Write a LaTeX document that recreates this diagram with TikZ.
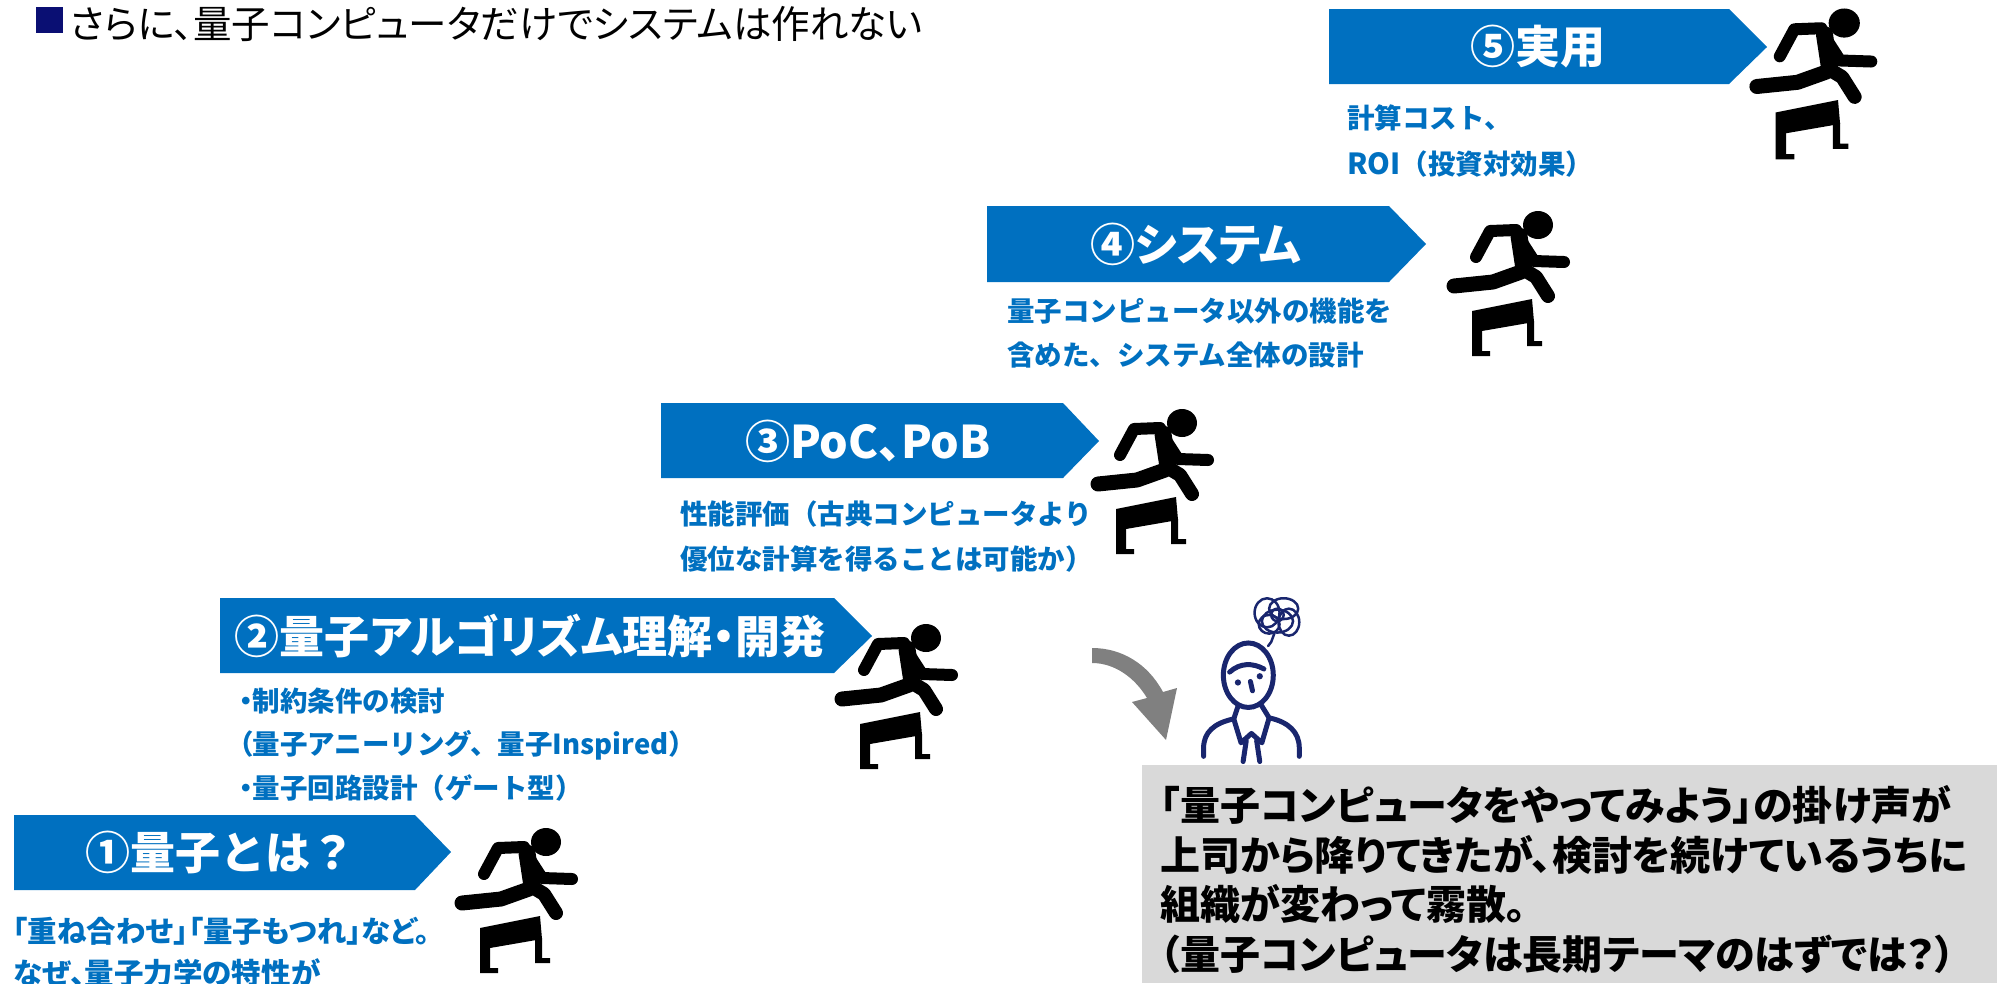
\documentclass[tikz,border=0pt]{standalone}
\usepackage{fontspec}
\setmainfont{Noto Sans CJK JP}
\newfontfamily\pfont{Noto Sans CJK JP}[RawFeature=+palt]
\definecolor{QC-BLUE}{RGB}{0, 112, 192}
\definecolor{QC-MARK}{RGB}{10, 15, 115}
\definecolor{QC-NAVY}{RGB}{25, 38, 110}
\definecolor{QC-ARROW}{RGB}{128, 128, 128}
\definecolor{QC-BOX}{RGB}{217, 217, 217}

% hurdle runner, drawn in a 140 x 160 box
\tikzset{
  runner/.pic={
    \begin{scope}[line cap=round, line join=round]
      \fill (106,26) ellipse [x radius=15, y radius=14];
      \draw[line width=17pt] (87,37) -- (92,70);
      \draw[line width=12pt] (84,31) -- (58,32) -- (44,58);
      \draw[line width=12pt] (91,45) -- (102,62) -- (132,63);
      \draw[line width=15pt] (89,73) -- (61,83) -- (22,87);
      \draw[line width=14pt] (94,72) -- (104,78) -- (116,97);
    \end{scope}
    % hurdle
    \fill (40,112) -- (100,100) -- (102,123) -- (50,132) -- (50,152)
      -- (58,152) -- (58,157) -- (40,157) -- cycle;
    \fill (95,122) -- (102,122) -- (102,142) -- (110,142) -- (110,147)
      -- (95,147) -- cycle;
  }
}

\begin{document}
\begin{tikzpicture}[x=1pt, y=-1pt,
    banner/.style={fill=QC-BLUE},
    bannertext/.style={text=white, inner sep=0pt,
      font=\pfont\bfseries\fontsize{45}{54}\selectfont},
    subtext/.style={text=QC-BLUE, inner sep=0pt, anchor=base west, align=left,
      font=\bfseries\fontsize{27.5}{44}\selectfont},
    memo/.style={text=black, inner sep=0pt, anchor=base west, align=left,
      font=\pfont\bfseries\fontsize{40}{49.5}\selectfont}]
  \useasboundingbox (0,0) rectangle (1997,983);
  \clip (0,0) rectangle (1997,983);

  % heading
  \fill[QC-MARK] (36,7) rectangle (63,33);
  \node[anchor=base west, inner sep=0pt, font=\pfont\fontsize{38.5}{42}\selectfont]
    (title) at (70,38) {さらに、量子コンピュータだけでシステムは作れない};

  % step 1
  \fill[banner] (14,815) -- (415,815) -- (451,852) -- (415,890) -- (14,890) -- cycle;
  \node[bannertext, font=\bfseries\fontsize{45}{54}\selectfont] (b1) at (220,852)
    {①量子とは？};
  \node[subtext, font=\pfont\bfseries\fontsize{29.5}{42}\selectfont] (s1) at (13,984)
    {「重ね合わせ」「量子もつれ」など。\\なぜ、量子力学の特性が};
  \pic at (440,816) {runner};

  % step 2
  \fill[banner] (220,598) -- (834,598) -- (872,636) -- (834,673) -- (220,673) -- cycle;
  \node[bannertext] (b2) at (530,636) {②量子アルゴリズム理解・開発};
  \node[subtext, font=\bfseries\fontsize{27.5}{43.5}\selectfont] (s2) at (239,798)
    {{\pfont ・}制約条件の検討\\{\pfont （}量子アニーリング、量子Inspired）\\{\pfont ・}量子回路設計（ゲート型）};
  \pic at (820,612) {runner};

  % step 3
  \fill[banner] (661,403) -- (1063,403) -- (1099,441) -- (1063,478) -- (661,478) -- cycle;
  \node[bannertext] (b3) at (868,441) {③PoC、PoB};
  \node[subtext, font=\bfseries\fontsize{27.5}{45}\selectfont] (s3) at (680,569)
    {性能評価（古典コンピュータより\\優位な計算を得ることは可能か）};
  \pic at (1076,397) {runner};

  % step 4
  \fill[banner] (987,206) -- (1389,206) -- (1426,244) -- (1389,282) -- (987,282) -- cycle;
  \node[bannertext] (b4) at (1196,244) {④システム};
  \node[subtext] (s4) at (1007,365)
    {量子コンピュータ以外の機能を\\含めた、システム全体の設計};
  \pic at (1432,199) {runner};

  % step 5
  \fill[banner] (1329,9) -- (1729,9) -- (1767,47) -- (1729,84) -- (1329,84) -- cycle;
  \node[bannertext] (b5) at (1538,47) {⑤実用};
  \node[subtext, font=\bfseries\fontsize{27.5}{46}\selectfont] (s5) at (1347,174)
    {計算コスト、\\{\fontsize{29}{46}\selectfont ROI}（投資対効果）};
  \pic[scale=1.04] at (1734,-4) {runner};

  % curved arrow down to the worried engineer
  \fill[QC-ARROW] (1092,648) .. controls (1122,648) and (1148,664) .. (1163,692)
    -- (1177,688) -- (1166,740) -- (1132,702) -- (1147,698)
    .. controls (1135,678) and (1115,663) .. (1092,663) -- cycle;

  % worried engineer
  \begin{scope}[shift={(1188,592)}, scale=1.04, QC-NAVY, line width=5pt, line cap=round, line join=round]
    \draw (58,80) ellipse [x radius=24, y radius=31];
    \draw (40,77) .. controls (50,68) and (62,68) .. (73,74);
    \fill (48,87) circle (3) (69,81) circle (3);
    \draw (60,86) -- (62,95);
    \draw (48,110) -- (44,122) .. controls (25,126) and (15,135) .. (15,150) -- (15,158);
    \draw (70,108) -- (78,121) .. controls (97,125) and (107,135) .. (107,150) -- (107,158);
    \draw (44,122) -- (51,145) -- (61,136) -- (71,145) -- (78,121);
    \draw (56,143) -- (53,163);
    \draw (66,143) -- (69,163);
    % tangled thought
    \begin{scope}[line width=2.5pt]
      \draw (76,20) ellipse [x radius=12, y radius=14];
      \draw (92,16) ellipse [x radius=14, y radius=10];
      \draw (86,28) ellipse [x radius=15, y radius=11];
      \draw (78,31) ellipse [x radius=10, y radius=9];
      \draw (97,29) ellipse [x radius=10, y radius=13];
      \draw (86,22) circle (6);
      \draw (83,40) -- (80,48) -- (77,52);
    \end{scope}
  \end{scope}

  % comment box
  \fill[QC-BOX] (1142,765) rectangle (1997,983);
  \node[memo] (note) at (1160,969)
    {「量子コンピュータをやってみよう」の掛け声が\\上司から降りてきたが、検討を続けているうちに\\組織が変わって霧散。\\（量子コンピュータは長期テーマのはずでは？）};
\end{tikzpicture}
\end{document}
